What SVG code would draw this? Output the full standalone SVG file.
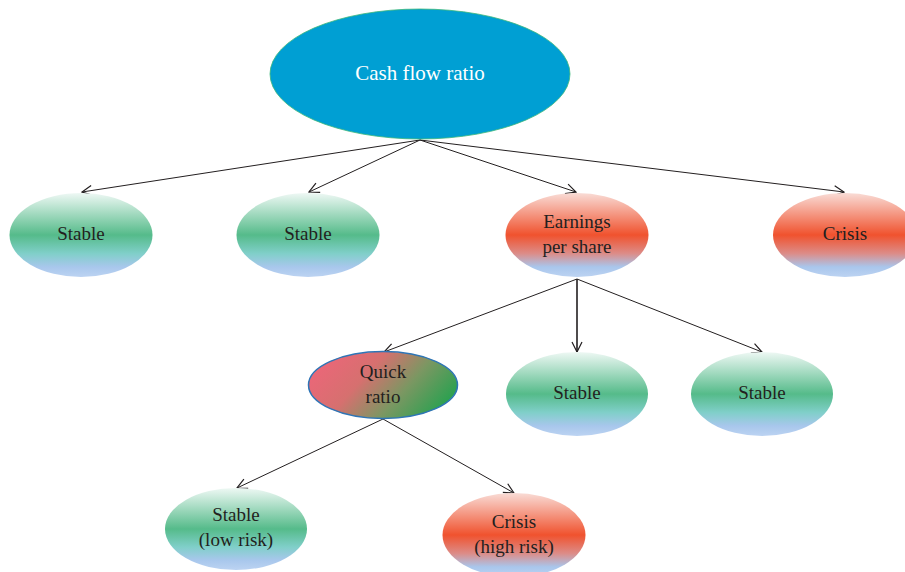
<svg xmlns="http://www.w3.org/2000/svg" width="905" height="572" viewBox="0 0 905 572">
<style>
text{font-family:"Liberation Serif","DejaVu Serif",serif;font-size:19px;fill:#231f20;text-anchor:middle}
.w{fill:#ffffff;font-size:21px}
.c{stroke:#231f20;stroke-width:1;fill:none;marker-end:url(#ah)}
</style>
<defs>
<linearGradient id="gg" x1="0" y1="0" x2="0" y2="1">
<stop offset="0" stop-color="#eef8f4"/>
<stop offset="0.5" stop-color="#55bb8a"/>
<stop offset="0.72" stop-color="#80cfc9"/>
<stop offset="0.88" stop-color="#a8c7ec"/>
<stop offset="1" stop-color="#bcd3f2"/>
</linearGradient>
<linearGradient id="rg" x1="0" y1="0" x2="0" y2="1">
<stop offset="0" stop-color="#f9dcd6"/>
<stop offset="0.5" stop-color="#f0522e"/>
<stop offset="0.72" stop-color="#dc8c88"/>
<stop offset="0.88" stop-color="#a9c6ec"/>
<stop offset="1" stop-color="#bcd3f2"/>
</linearGradient>
<linearGradient id="qg" x1="0" y1="0.3" x2="1" y2="0.7">
<stop offset="0" stop-color="#ec6679"/>
<stop offset="0.35" stop-color="#d6706f"/>
<stop offset="0.65" stop-color="#7b9762"/>
<stop offset="1" stop-color="#22a24e"/>
</linearGradient>
<marker id="ah" viewBox="0 0 12 12" refX="11" refY="6" markerWidth="12" markerHeight="12" markerUnits="userSpaceOnUse" orient="auto">
<path d="M1,1 L11,6 L1,11" fill="none" stroke="#231f20" stroke-width="1.2"/>
</marker>
</defs>
<g id="connectors">
<line class="c" x1="420" y1="140" x2="82" y2="192"/>
<line class="c" x1="420" y1="140" x2="309" y2="192"/>
<line class="c" x1="420" y1="140" x2="576" y2="192"/>
<line class="c" x1="420" y1="140" x2="844" y2="192"/>
<line class="c" x1="577" y1="279" x2="384" y2="352"/>
<line class="c" x1="577" y1="279" x2="577" y2="352" style="stroke-width:1.6"/>
<line class="c" x1="577" y1="279" x2="762" y2="352"/>
<line class="c" x1="383" y1="419" x2="237" y2="488"/>
<line class="c" x1="383" y1="419" x2="514" y2="493"/>
</g>
<g id="cashflow">
<ellipse cx="420" cy="74" rx="150" ry="65" fill="#009fd3" stroke="#3cb87a" stroke-width="0.8"/>
<text class="w" x="420" y="80">Cash flow ratio</text>
</g>
<g id="stable1">
<ellipse cx="81" cy="235" rx="71.5" ry="42" fill="url(#gg)"/>
<text x="81" y="240">Stable</text>
</g>
<g id="stable2">
<ellipse cx="308" cy="235" rx="71.5" ry="42" fill="url(#gg)"/>
<text x="308" y="240">Stable</text>
</g>
<g id="eps">
<ellipse cx="577" cy="235" rx="71.5" ry="42" fill="url(#rg)"/>
<text x="577" y="228">Earnings</text>
<text x="577" y="253">per share</text>
</g>
<g id="crisis1">
<ellipse cx="845" cy="235" rx="72" ry="42" fill="url(#rg)"/>
<text x="845" y="240">Crisis</text>
</g>
<g id="quick">
<ellipse cx="383" cy="385" rx="74.5" ry="33.5" fill="url(#qg)" stroke="#2e75b6" stroke-width="1.5"/>
<text x="383" y="378">Quick</text>
<text x="383" y="403">ratio</text>
</g>
<g id="stable3">
<ellipse cx="577" cy="394" rx="71" ry="42" fill="url(#gg)"/>
<text x="577" y="399">Stable</text>
</g>
<g id="stable4">
<ellipse cx="762" cy="394" rx="71" ry="42" fill="url(#gg)"/>
<text x="762" y="399">Stable</text>
</g>
<g id="stablelow">
<ellipse cx="236" cy="529" rx="71" ry="41" fill="url(#gg)"/>
<text x="236" y="521">Stable</text>
<text x="236" y="546">(low risk)</text>
</g>
<g id="crisishigh">
<ellipse cx="514" cy="535" rx="71.5" ry="42" fill="url(#rg)"/>
<text x="514" y="528">Crisis</text>
<text x="514" y="553">(high risk)</text>
</g>
</svg>
